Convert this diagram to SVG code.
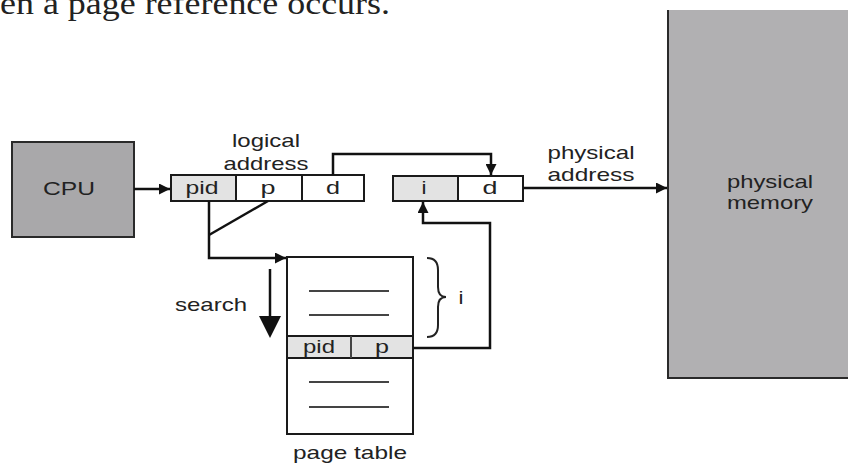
<svg xmlns="http://www.w3.org/2000/svg" width="848" height="468" viewBox="0 0 848 468">
<style>
.t{font-family:"Liberation Sans",Arial,sans-serif;font-size:19px;fill:#222;text-anchor:middle}
.cell{fill:#fff;stroke:#1a1a1a;stroke-width:2}
.shade{fill:#e3e3e3;stroke:#1a1a1a;stroke-width:2}
.conn{fill:none;stroke:#111;stroke-width:2.5}
.rule{stroke:#444;stroke-width:2}
.head{fill:#111}
</style>
<defs>
<marker id="ah" viewBox="0 0 10 10" refX="10" refY="5" markerWidth="5" markerHeight="4.4" orient="auto" markerUnits="strokeWidth">
<path d="M0,0 L10,5 L0,10 z" fill="#111"/>
</marker>
</defs>
<rect width="848" height="468" fill="#fff"/>
<text x="0" y="14" font-family="'Liberation Serif','Times New Roman',serif" font-size="31" fill="#222" textLength="390" lengthAdjust="spacingAndGlyphs">en a page reference occurs.</text>

<g id="memory">
<rect x="668" y="10" width="190" height="368" fill="#b1b0b2"/>
<path d="M668,10 L668,378 L848,378" fill="none" stroke="#2a2a2a" stroke-width="2"/>
<text class="t" x="770" y="188" textLength="86" lengthAdjust="spacingAndGlyphs">physical</text>
<text class="t" x="770" y="209" textLength="86" lengthAdjust="spacingAndGlyphs">memory</text>
</g>

<g id="cpu">
<rect x="12" y="142" width="122" height="95" fill="#a9a8aa" stroke="#2a2a2a" stroke-width="2"/>
<text class="t" x="69" y="195" textLength="52" lengthAdjust="spacingAndGlyphs">CPU</text>
</g>

<g id="logical-address">
<text class="t" x="266" y="147" textLength="68" lengthAdjust="spacingAndGlyphs">logical</text>
<text class="t" x="266" y="170" textLength="85" lengthAdjust="spacingAndGlyphs">address</text>
<rect class="shade" x="171" y="175" width="65" height="26"/>
<rect class="cell" x="236" y="175" width="66" height="26"/>
<rect class="cell" x="302" y="175" width="62" height="26"/>
<text class="t" x="202" y="194" textLength="33" lengthAdjust="spacingAndGlyphs">pid</text>
<text class="t" x="268" y="194" textLength="15" lengthAdjust="spacingAndGlyphs">p</text>
<text class="t" x="333" y="194" textLength="14" lengthAdjust="spacingAndGlyphs">d</text>
</g>

<g id="physical-address">
<rect class="shade" x="393" y="176" width="65" height="25"/>
<rect class="cell" x="458" y="176" width="65" height="25"/>
<text class="t" x="424" y="194" textLength="5" lengthAdjust="spacingAndGlyphs">i</text>
<text class="t" x="490" y="194" textLength="15" lengthAdjust="spacingAndGlyphs">d</text>
<text class="t" x="591" y="159" textLength="87" lengthAdjust="spacingAndGlyphs">physical</text>
<text class="t" x="591" y="181" textLength="87" lengthAdjust="spacingAndGlyphs">address</text>
</g>

<g id="page-table">
<rect class="cell" x="287" y="257" width="126" height="177"/>
<rect class="shade" x="287" y="336" width="126" height="22"/>
<line class="rule" x1="351" y1="336" x2="351" y2="358"/>
<line class="rule" x1="309" y1="291" x2="389" y2="291"/>
<line class="rule" x1="309" y1="315" x2="389" y2="315"/>
<line class="rule" x1="309" y1="382" x2="389" y2="382"/>
<line class="rule" x1="309" y1="407" x2="389" y2="407"/>
<text class="t" x="319" y="353" textLength="32" lengthAdjust="spacingAndGlyphs">pid</text>
<text class="t" x="382" y="353" textLength="14" lengthAdjust="spacingAndGlyphs">p</text>
<text class="t" x="350" y="459" textLength="114" lengthAdjust="spacingAndGlyphs">page table</text>
<path d="M427,258 Q438,258 438,270 L438,287 Q438,297 446,297 Q438,297 438,307 L438,325 Q438,337 427,337" fill="none" stroke="#222" stroke-width="2"/>
<text class="t" x="461" y="304" textLength="5" lengthAdjust="spacingAndGlyphs">i</text>
</g>

<g id="search">
<text class="t" x="211" y="311" textLength="72" lengthAdjust="spacingAndGlyphs">search</text>
<line class="conn" x1="270" y1="269" x2="270" y2="318"/>
<polygon class="head" points="259,316 281,316 270,338"/>
</g>

<g id="connectors">
<path class="conn" d="M134,189 L170,189" marker-end="url(#ah)"/>
<path class="conn" d="M333,175 L333,154 L491,154 L491,175" marker-end="url(#ah)"/>
<path class="conn" d="M523,188 L667,188" marker-end="url(#ah)"/>
<path class="conn" d="M209,201 L209,258 L286,258" marker-end="url(#ah)"/>
<path class="conn" d="M268,201 L209,235"/>
<path class="conn" d="M413,348 L490,348 L490,223 L423,223 L423,202" marker-end="url(#ah)"/>
</g>
</svg>
